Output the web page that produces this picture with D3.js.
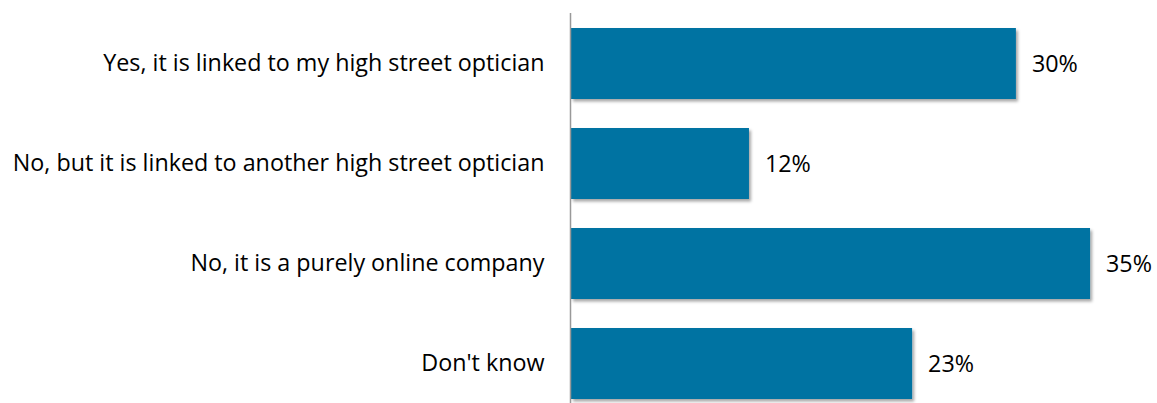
<!DOCTYPE html>
<html>
<head>
<meta charset="utf-8">
<script src="https://cdn.jsdelivr.net/npm/d3@7"></script>
<style>
  html, body { margin: 0; padding: 0; background: #fff; }
  svg { display: block; }
  text { font-family: "Open Sans", sans-serif; fill: #000; }
</style>
</head>
<body>
<svg id="chart" width="1157" height="403"></svg>
<script>
const categories = [
  "Yes, it is linked to my high street optician",
  "No, but it is linked to another high street optician",
  "No, it is a purely online company",
  "Don't know"
];
const values = [30, 12, 35, 23];
const valueLabels = ["30%", "12%", "35%", "23%"];

const width = 1157, height = 403;
const fontSize = 23.3;
const svg = d3.select("#chart");

const x = d3.scaleLinear().domain([0, 40]).range([571, 1164.2]);
const y = d3.scaleBand().domain(categories).range([13.5, 413.5])
  .paddingInner(0.29).paddingOuter(0.145);

const defs = svg.append("defs");
const f = defs.append("filter").attr("id", "shadow")
  .attr("x", "-5%").attr("y", "-20%").attr("width", "115%").attr("height", "150%");
f.append("feDropShadow").attr("dx", 2).attr("dy", 2.5).attr("stdDeviation", 1.6)
  .attr("flood-color", "#000").attr("flood-opacity", 0.35);

const data = categories.map((c, i) => ({ c, v: values[i], label: valueLabels[i] }));

svg.append("g").selectAll("rect").data(data).join("rect")
  .attr("x", x(0))
  .attr("y", d => y(d.c))
  .attr("width", d => x(d.v) - x(0))
  .attr("height", y.bandwidth())
  .attr("fill", "#0073a2")
  .attr("filter", "url(#shadow)");

// category axis: vertical line with labels on the left, no ticks
const yAxis = d3.axisLeft(y).tickSize(0).tickPadding(26);
const ga = svg.append("g").attr("transform", `translate(${x(0) - 0.5},0)`).call(yAxis);
ga.select(".domain").remove();
ga.selectAll("text").attr("font-size", fontSize).attr("font-family", "'Open Sans', sans-serif").attr("fill", "#000");
svg.append("line")
  .attr("x1", x(0) - 0.5).attr("x2", x(0) - 0.5)
  .attr("y1", 13).attr("y2", height)
  .attr("stroke", "#999").attr("stroke-width", 1.5);

svg.append("g").selectAll("text").data(data).join("text")
  .attr("x", d => x(d.v) + 16)
  .attr("y", d => y(d.c) + y.bandwidth() / 2)
  .attr("dy", "0.35em")
  .attr("font-size", fontSize)
  .text(d => d.label);
</script>
</body>
</html>
